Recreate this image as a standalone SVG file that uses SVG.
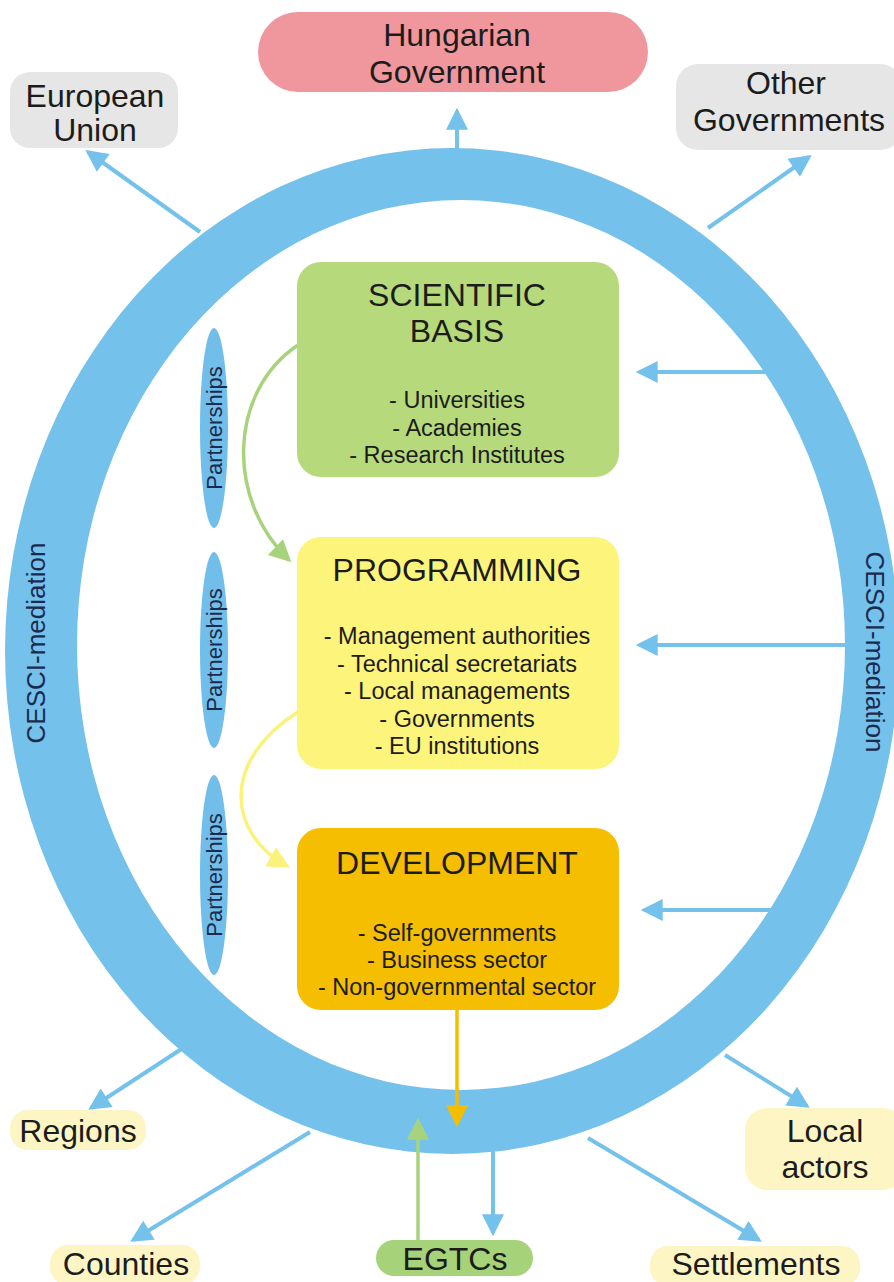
<svg xmlns="http://www.w3.org/2000/svg" width="894" height="1282" viewBox="0 0 894 1282">
<style>
  text { font-family: "Liberation Sans", Arial, sans-serif; fill: #1c1c1c; text-anchor: middle; }
  .outer { font-size: 32px; }
  .title { font-size: 32px; }
  .item { font-size: 23.5px; }
  .navy { fill: #1b2b4d; }
  .part { font-size: 22px; }
  .cesci { font-size: 26px; }
  .blue { stroke: #74c1ec; stroke-width: 4; fill: none; marker-end: url(#hb); }
  .pale { fill: #fdf6c4; }
  .grey { fill: #e6e6e6; }
</style>
<defs>
  <marker id="hb" viewBox="0 0 10 10" refX="8.5" refY="5" markerUnits="userSpaceOnUse" markerWidth="26" markerHeight="22" orient="auto"><path d="M0,0 L10,5 L0,10 z" fill="#74c1ec"/></marker>
  <marker id="hg" viewBox="0 0 10 10" refX="8.5" refY="5" markerUnits="userSpaceOnUse" markerWidth="24" markerHeight="22" orient="auto"><path d="M0,0 L10,5 L0,10 z" fill="#a8d37d"/></marker>
  <marker id="hy" viewBox="0 0 10 10" refX="8.5" refY="5" markerUnits="userSpaceOnUse" markerWidth="24" markerHeight="22" orient="auto"><path d="M0,0 L10,5 L0,10 z" fill="#fbf27c"/></marker>
  <marker id="ho" viewBox="0 0 10 10" refX="8.5" refY="5" markerUnits="userSpaceOnUse" markerWidth="24" markerHeight="22" orient="auto"><path d="M0,0 L10,5 L0,10 z" fill="#f5bd00"/></marker>
</defs>
<rect width="894" height="1282" fill="#ffffff"/>

<g id="ring">
  <path fill="#74c1ec" fill-rule="evenodd" d="M5,651 A447,503 0 1 0 899,651 A447,503 0 1 0 5,651 Z M77,645 A384,445 0 1 0 845,645 A384,445 0 1 0 77,645 Z"/>
  <text class="cesci navy" transform="translate(45,643) rotate(-90)">CESCI-mediation</text>
  <text class="cesci navy" transform="translate(866,652) rotate(90)">CESCI-mediation</text>
</g>

<g id="connectors">
  <line class="blue" x1="457" y1="152" x2="457" y2="111"/>
  <line class="blue" x1="200" y1="232" x2="88" y2="152"/>
  <line class="blue" x1="708" y1="228" x2="809" y2="157"/>
  <line class="blue" x1="766" y1="372" x2="639" y2="372"/>
  <line class="blue" x1="845" y1="645" x2="639" y2="645"/>
  <line class="blue" x1="771" y1="910" x2="644" y2="910"/>
  <line class="blue" x1="183" y1="1048" x2="91" y2="1108"/>
  <line class="blue" x1="310" y1="1132" x2="133" y2="1240"/>
  <line class="blue" x1="493" y1="1150" x2="493" y2="1233"/>
  <line class="blue" x1="588" y1="1138" x2="759" y2="1240"/>
  <line class="blue" x1="725" y1="1055" x2="807" y2="1106"/>
  <line x1="457" y1="1010" x2="457" y2="1124" stroke="#f5bd00" stroke-width="3.5" marker-end="url(#ho)"/>
  <line x1="418" y1="1240" x2="418" y2="1121" stroke="#a8d37d" stroke-width="3.5" marker-end="url(#hg)"/>
  <path d="M298,345 C228,392 226,500 289,560" fill="none" stroke="#a8d37d" stroke-width="3.5" marker-end="url(#hg)"/>
  <path d="M298,712 C222,760 226,832 287,866" fill="none" stroke="#fbf27c" stroke-width="3.5" marker-end="url(#hy)"/>
</g>

<g id="hungarian-government">
  <rect x="258" y="12" width="390" height="80" rx="40" fill="#f0979d"/>
  <text class="outer" x="457" y="46">Hungarian</text>
  <text class="outer" x="457" y="83">Government</text>
</g>
<g id="european-union">
  <rect class="grey" x="10" y="72" width="168" height="76" rx="20"/>
  <text class="outer" x="95" y="107">European</text>
  <text class="outer" x="95" y="141">Union</text>
</g>
<g id="other-governments">
  <rect class="grey" x="676" y="64" width="226" height="86" rx="22"/>
  <text class="outer" x="786" y="94">Other</text>
  <text class="outer" x="789" y="131">Governments</text>
</g>

<g id="partnerships-1">
  <ellipse cx="214" cy="428" rx="14" ry="100" fill="#72beea"/>
  <text class="part navy" transform="translate(222,428) rotate(-90)">Partnerships</text>
</g>
<g id="partnerships-2">
  <ellipse cx="214" cy="650" rx="14" ry="98" fill="#72beea"/>
  <text class="part navy" transform="translate(222,650) rotate(-90)">Partnerships</text>
</g>
<g id="partnerships-3">
  <ellipse cx="214" cy="875" rx="14" ry="100" fill="#72beea"/>
  <text class="part navy" transform="translate(222,875) rotate(-90)">Partnerships</text>
</g>

<g id="scientific-basis">
  <rect x="297" y="262" width="322" height="215" rx="24" fill="#b6d97b"/>
  <text class="title" x="457" y="306">SCIENTIFIC</text>
  <text class="title" x="457" y="342">BASIS</text>
  <text class="item" x="457" y="408">- Universities</text>
  <text class="item" x="457" y="436">- Academies</text>
  <text class="item" x="457" y="463">- Research Institutes</text>
</g>

<g id="programming">
  <rect x="297" y="537" width="322" height="232" rx="24" fill="#fdf47c"/>
  <text class="title" x="457" y="581">PROGRAMMING</text>
  <text class="item" x="457" y="644">- Management authorities</text>
  <text class="item" x="457" y="671.5">- Technical secretariats</text>
  <text class="item" x="457" y="699">- Local managements</text>
  <text class="item" x="457" y="726.5">- Governments</text>
  <text class="item" x="457" y="754">- EU institutions</text>
</g>

<g id="development">
  <rect x="297" y="828" width="322" height="182" rx="24" fill="#f6be00"/>
  <text class="title" x="457" y="874">DEVELOPMENT</text>
  <text class="item" x="457" y="941">- Self-governments</text>
  <text class="item" x="457" y="968">- Business sector</text>
  <text class="item" x="457" y="995">- Non-governmental sector</text>
</g>

<g id="regions">
  <rect class="pale" x="10" y="1110" width="136" height="40" rx="18"/>
  <text class="outer" x="78" y="1142">Regions</text>
</g>
<g id="counties">
  <rect class="pale" x="50" y="1245" width="150" height="40" rx="18"/>
  <text class="outer" x="126" y="1275">Counties</text>
</g>
<g id="egtcs">
  <rect x="376" y="1240" width="157" height="36" rx="18" fill="#a6d27a"/>
  <text class="outer" x="455" y="1270">EGTCs</text>
</g>
<g id="settlements">
  <rect class="pale" x="650" y="1246" width="210" height="40" rx="18"/>
  <text class="outer" x="756" y="1275">Settlements</text>
</g>
<g id="local-actors">
  <rect class="pale" x="745" y="1108" width="160" height="82" rx="22"/>
  <text class="outer" x="825" y="1142">Local</text>
  <text class="outer" x="825" y="1178">actors</text>
</g>
</svg>
